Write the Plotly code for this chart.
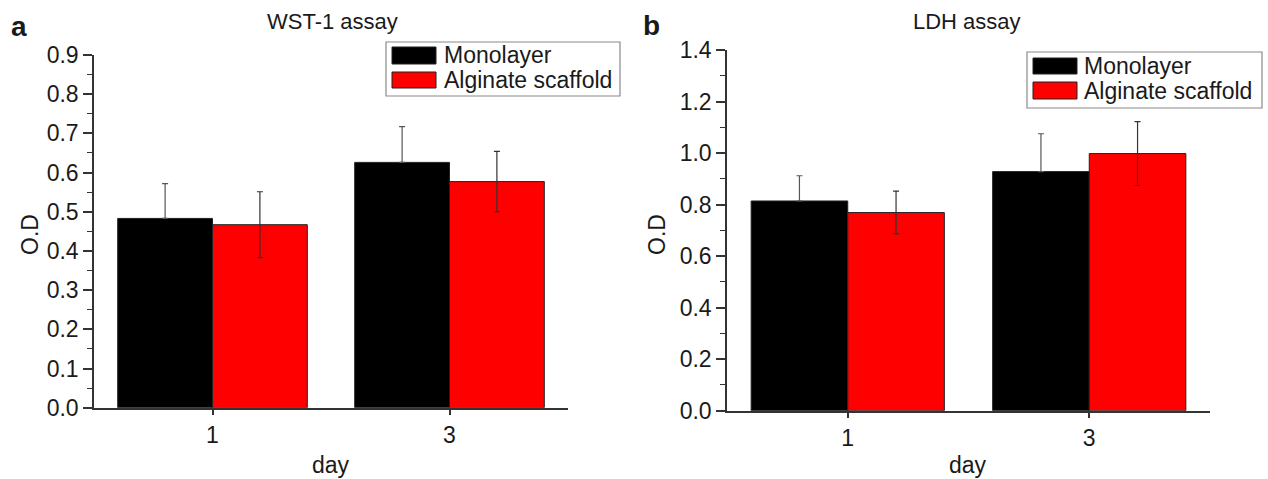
import plotly.graph_objects as go

W, H = 1268, 479

days = ["1", "3"]
series_names = ["Monolayer", "Alginate scaffold"]
series_colors = ["#000000", "#ff0000"]

wst_mono = [0.483, 0.626]
wst_mono_err = [0.089, 0.091]
wst_alg = [0.467, 0.577]
wst_alg_err = [0.084, 0.077]

ldh_mono = [0.814, 0.928]
ldh_mono_err = [0.098, 0.147]
ldh_alg = [0.769, 0.998]
ldh_alg_err = [0.083, 0.124]

wst_ticks = [0.0, 0.1, 0.2, 0.3, 0.4, 0.5, 0.6, 0.7, 0.8, 0.9]
ldh_ticks = [0.0, 0.2, 0.4, 0.6, 0.8, 1.0, 1.2, 1.4]

FONT = "Liberation Sans, Arial, sans-serif"
TXT = "#1a1a1a"
AX = "#333333"


def px(x):
    return x / W


def py(y):
    return 1 - y / H


fig = go.Figure()

panels = [
    ("x", "y", [wst_mono, wst_alg], [wst_mono_err, wst_alg_err]),
    ("x2", "y2", [ldh_mono, ldh_alg], [ldh_mono_err, ldh_alg_err]),
]
err_colors = ["#555555", "#333333"]
for xa, ya, vals, errs in panels:
    for i in range(2):
        # the lower half of the error bar is hidden behind the black bar in the original
        minus = [0 for _ in errs[i]] if i == 0 else errs[i]
        fig.add_trace(go.Bar(
            x=days, y=vals[i], name=series_names[i],
            marker=dict(color=series_colors[i], line=dict(color="#222222", width=1)),
            error_y=dict(type="data", array=errs[i], arrayminus=minus, symmetric=False,
                         visible=True, color=err_colors[i], thickness=1.2, width=3),
            xaxis=xa, yaxis=ya, showlegend=False,
        ))

axis_common = dict(
    showline=True, linecolor=AX, linewidth=1.5, showgrid=False, zeroline=False,
    ticks="outside", tickcolor=AX, tickwidth=1.5,
    tickfont=dict(family=FONT, size=23, color=TXT), automargin=False,
)

fig.update_layout(
    width=W, height=H,
    margin=dict(l=0, r=0, t=0, b=0),
    paper_bgcolor="white", plot_bgcolor="white",
    barmode="group", bargap=0.2, bargroupgap=0,
    font=dict(family=FONT, color=TXT),
    xaxis=dict(domain=[px(94), px(568)], anchor="y", type="category",
               range=[-0.5, 1.5], ticklen=6, **axis_common),
    yaxis=dict(domain=[py(407.7), py(55)], anchor="x", range=[0, 0.9],
               tickvals=wst_ticks, ticktext=[f"{v:.1f}" for v in wst_ticks],
               ticklen=9,
               minor=dict(ticks="outside", ticklen=5, dtick=0.05, tickcolor=AX, tickwidth=1.2),
               **axis_common),
    xaxis2=dict(domain=[px(727), px(1210)], anchor="y2", type="category",
                range=[-0.5, 1.5], ticklen=6, **axis_common),
    yaxis2=dict(domain=[py(410.7), py(50)], anchor="x2", range=[0, 1.4],
                tickvals=ldh_ticks, ticktext=[f"{v:.1f}" for v in ldh_ticks],
                ticklen=9,
                minor=dict(ticks="outside", ticklen=5, dtick=0.1, tickcolor=AX, tickwidth=1.2),
                **axis_common),
)

annots = [
    ("a", 19, 27, 28, True),
    ("b", 651, 25, 28, True),
    ("WST-1 assay", 333, 22, 22, False),
    ("LDH assay", 967, 22, 22, False),
    ("day", 331, 465, 23, False),
    ("day", 968, 465, 23, False),
]
for text, x, y, size, bold in annots:
    fig.add_annotation(
        text=f"<b>{text}</b>" if bold else text, xref="paper", yref="paper",
        x=px(x), y=py(y), xanchor="center", yanchor="middle", showarrow=False,
        font=dict(family=FONT, size=size, color=TXT),
    )
for x in (30, 657):
    fig.add_annotation(
        text="O.D", xref="paper", yref="paper", x=px(x), y=py(235),
        xanchor="center", yanchor="middle", showarrow=False, textangle=-90,
        font=dict(family=FONT, size=23, color=TXT),
    )

# custom legends (wide swatches like the original)
legends = [
    dict(box=(386, 42, 620, 96), sw_x=(392, 436), rows=[(47, 64), (72, 88)], tx=442),
    dict(box=(1027, 52, 1262, 108), sw_x=(1033, 1077), rows=[(58, 74), (82, 99)], tx=1082),
]
for lg in legends:
    x0, y0, x1, y1 = lg["box"]
    fig.add_shape(type="rect", xref="paper", yref="paper",
                  x0=px(x0), x1=px(x1), y0=py(y1), y1=py(y0),
                  line=dict(color="#8a8a8a", width=1.2), fillcolor="white", layer="above")
    for i, (ra, rb) in enumerate(lg["rows"]):
        fig.add_shape(type="rect", xref="paper", yref="paper",
                      x0=px(lg["sw_x"][0]), x1=px(lg["sw_x"][1]), y0=py(rb), y1=py(ra),
                      line=dict(color="#222222", width=1), fillcolor=series_colors[i], layer="above")
        fig.add_annotation(text=series_names[i], xref="paper", yref="paper",
                           x=px(lg["tx"]), y=py((ra + rb) / 2), xanchor="left", yanchor="middle",
                           showarrow=False, font=dict(family=FONT, size=23, color=TXT))

fig.write_html("out.html", config={"displayModeBar": False},
               post_script="document.body.style.margin='0';document.body.style.overflow='hidden';")
